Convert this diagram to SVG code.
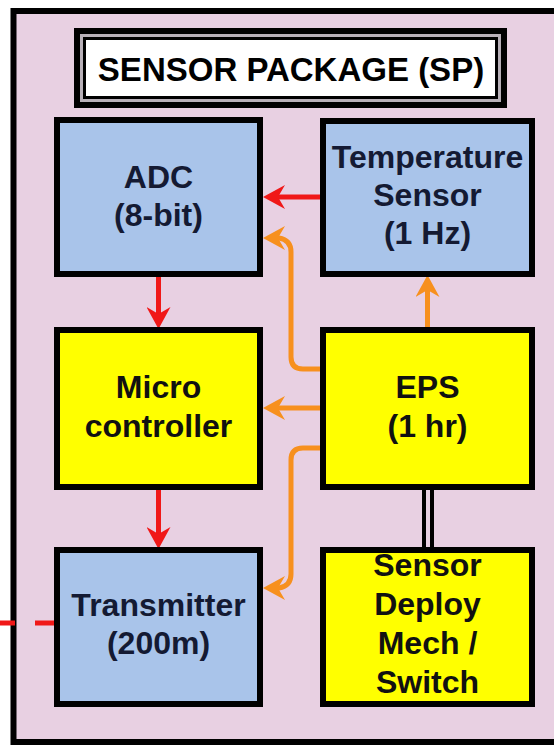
<svg xmlns="http://www.w3.org/2000/svg" width="554" height="747" viewBox="0 0 554 747">
<defs>
<style>
.box{stroke:#000;stroke-width:6}
.blue{fill:#a9c4ea}
.yel{fill:#ffff00}
.t{font-family:"Liberation Sans",Arial,sans-serif;font-weight:bold;font-size:32px;text-anchor:middle}
.tb{fill:#141a33}
.ty{fill:#111}
.red{stroke:#f01818;stroke-width:5;fill:none}
.org{stroke:#f7901e;stroke-width:5;fill:none}
</style>
<marker id="ar" markerUnits="userSpaceOnUse" markerWidth="22" markerHeight="24" viewBox="0 0 22 24" refX="8" refY="12" orient="auto">
<path d="M0,0 L22,12 L0,24 L7,12 Z" fill="#f01818"/>
</marker>
<marker id="ao" markerUnits="userSpaceOnUse" markerWidth="22" markerHeight="24" viewBox="0 0 22 24" refX="8" refY="12" orient="auto">
<path d="M0,0 L22,12 L0,24 L7,12 Z" fill="#f7901e"/>
</marker>
</defs>
<rect width="554" height="747" fill="#ffffff"/>
<rect id="frame" x="13.5" y="11" width="600" height="731" fill="#e8d0e2" stroke="#000" stroke-width="6"/>

<g id="title">
<rect x="77" y="31" width="427" height="74" fill="#b8b0b8" stroke="#000" stroke-width="6"/>
<rect x="84.5" y="38.5" width="412" height="59" fill="#fff" stroke="#000" stroke-width="3"/>
<text x="291" y="81" class="t" fill="#000" style="font-size:33px">SENSOR PACKAGE (SP)</text>
</g>

<g id="connectors">
<line x1="320" y1="197" x2="277" y2="197" class="red" marker-end="url(#ar)"/>
<line x1="158.5" y1="277" x2="158.5" y2="315" class="red" marker-end="url(#ar)"/>
<line x1="158.5" y1="490" x2="158.5" y2="535" class="red" marker-end="url(#ar)"/>
<line x1="55" y1="623" x2="0" y2="623" class="red" stroke-dasharray="20 20"/>
<line x1="427.5" y1="327" x2="427.5" y2="289" class="org" marker-end="url(#ao)"/>
<path d="M320,369 H303 Q291,369 291,357 V252 Q291,240 279,238 L277,238" class="org" marker-end="url(#ao)"/>
<line x1="320" y1="408" x2="277" y2="408" class="org" marker-end="url(#ao)"/>
<path d="M320,448 H303 Q291,448 291,460 V574 Q291,586 279,588 L277,588" class="org" marker-end="url(#ao)"/>
<line x1="424" y1="490" x2="424" y2="547" stroke="#000" stroke-width="4"/>
<line x1="432" y1="490" x2="432" y2="547" stroke="#000" stroke-width="4"/>
</g>

<g id="adc">
<rect x="57" y="120" width="203" height="154" class="box blue"/>
<text x="158.5" y="188" class="t tb">ADC</text>
<text x="158.5" y="226" class="t tb">(8-bit)</text>
</g>
<g id="temp">
<rect x="323" y="121" width="209" height="153" class="box blue"/>
<text x="427.5" y="168" class="t tb">Temperature</text>
<text x="427.5" y="206" class="t tb">Sensor</text>
<text x="427.5" y="244" class="t tb">(1 Hz)</text>
</g>
<g id="micro">
<rect x="57" y="330" width="203" height="157" class="box yel"/>
<text x="158.5" y="398" class="t ty">Micro</text>
<text x="158.5" y="437" class="t ty">controller</text>
</g>
<g id="eps">
<rect x="323" y="330" width="209" height="157" class="box yel"/>
<text x="427.5" y="398" class="t ty">EPS</text>
<text x="427.5" y="437" class="t ty">(1 hr)</text>
</g>
<g id="transmitter">
<rect x="57" y="550" width="203" height="154" class="box blue"/>
<text x="158.5" y="616" class="t tb">Transmitter</text>
<text x="158.5" y="654" class="t tb">(200m)</text>
</g>
<g id="deploy">
<rect x="323" y="550" width="209" height="154" class="box yel"/>
<text x="427.5" y="576" class="t ty">Sensor</text>
<text x="427.5" y="615" class="t ty">Deploy</text>
<text x="427.5" y="654" class="t ty">Mech /</text>
<text x="427.5" y="693" class="t ty">Switch</text>
</g>
</svg>
